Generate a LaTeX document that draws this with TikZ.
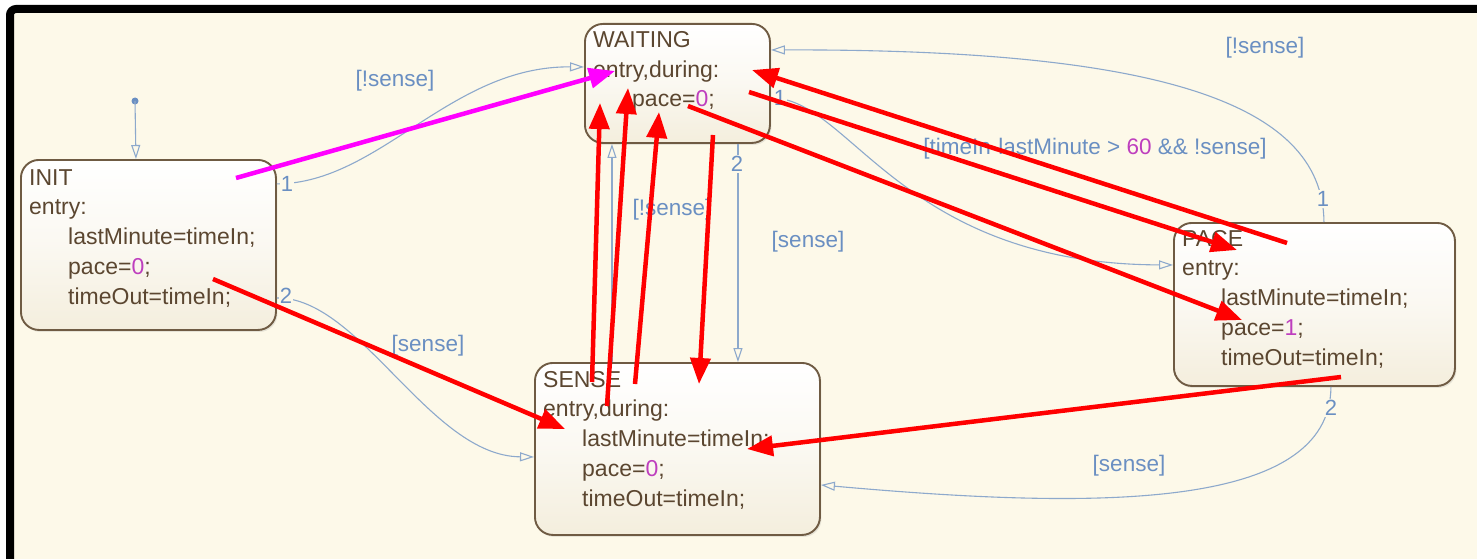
\documentclass[tikz,border=0pt]{standalone}
\usepackage{fontspec}
\setmainfont{Liberation Sans}
\usetikzlibrary{arrows.meta,shadows}
\definecolor{bgc}{HTML}{FDF9E9}
\definecolor{bluel}{HTML}{8DA9CC}
\definecolor{bluet}{HTML}{6A8FC2}
\definecolor{brd}{HTML}{6F5B43}
\definecolor{txtc}{HTML}{5B4630}
\definecolor{numc}{HTML}{BE3EBE}
\definecolor{stbot}{HTML}{F4EEDD}
\definecolor{magc}{HTML}{FF00FF}
\definecolor{redc}{HTML}{FF0000}
\newcommand\stind{\hspace*{39pt}}
\newcommand\nm[1]{\textcolor{numc}{#1}}
\begin{document}
\begin{tikzpicture}[x=1pt,y=-1pt,
  state/.style={draw=brd, line width=1.9pt, rounded corners=18pt, top color=white, bottom color=stbot, middle color=white!60!stbot,
    drop shadow={opacity=0.18, shadow xshift=1.5pt, shadow yshift=-2pt}, anchor=north west, inner sep=0pt},
  stxt/.style={text=txtc, align=left, anchor=base west, inner sep=0pt, font=\fontsize{23}{29.75}\selectfont},
  trans/.style={draw=bluel, line width=1.1pt, -{Triangle[open, length=14pt, width=9pt, fill=bgc]}},
  lbl/.style={text=bluet, font=\fontsize{22.5}{27}\selectfont, inner sep=0pt},
  num/.style={text=bluet, font=\fontsize{22}{26}\selectfont, fill=bgc, inner sep=1pt},
  redar/.style={draw=redc, line width=4.5pt, -{Triangle[length=26pt, width=20pt]}},
  magar/.style={draw=magc, line width=4.5pt, -{Triangle[length=26pt, width=20pt]}}]
\useasboundingbox (0,0) rectangle (1477,559);
\fill[white] (0,0) rectangle (1477,559);
\fill[bgc] (10,9) rectangle (1477,559);
\draw[line width=8pt, rounded corners=6pt] (10,575) -- (10,9) -- (1495,9);

% states
\node[state, minimum width=255pt, minimum height=170pt] (init) at (20,159) {};
\node[state, minimum width=185pt, minimum height=119pt] (wait) at (584,23) {};
\node[state, minimum width=285pt, minimum height=172pt] (sense) at (534,362) {};
\node[state, minimum width=281pt, minimum height=163pt] (pace) at (1173,222) {};

% texts (anchored at the baseline of the last line)
\node[stxt] (initT) at (29,304) {INIT\\entry:\\\stind lastMinute=timeIn;\\\stind pace=\nm{0};\\\stind timeOut=timeIn;};
\node[stxt] (waitT) at (593,107) {WAITING\\entry,during:\\\stind pace=\nm{0};};
\node[stxt] (senseT) at (543,506) {SENSE\\entry,during:\\\stind lastMinute=timeIn;\\\stind pace=\nm{0};\\\stind timeOut=timeIn;};
\node[stxt] (paceT) at (1182,365) {PACE\\entry:\\\stind lastMinute=timeIn;\\\stind pace=\nm{1};\\\stind timeOut=timeIn;};

% default transition
\fill[bluet] (135,101) circle (3.5pt) coordinate (dot);
\draw[trans] (dot) -- ([xshift=-12.5pt]init.north);

% transitions
\draw[trans] ([yshift=61pt]init.east) .. controls (380,183) and (450,66) .. ([yshift=16.5pt]wait.west);
\draw[trans] ([yshift=-53pt]init.east) .. controls (360,297) and (430,456) .. ([yshift=-8pt]sense.west);
\draw[trans] ([yshift=-14.5pt]wait.east) .. controls (850,97) and (900,264) .. ([yshift=39.5pt]pace.west);
\draw[trans] ([xshift=9.5pt]pace.north) .. controls (1323,100) and (1150,49) .. ([yshift=33.5pt]wait.east);
\draw[trans] ([xshift=60.5pt]wait.south) -- ([xshift=60.5pt]sense.north);
\draw[trans] ([xshift=-65.5pt]sense.north) -- ([xshift=-65.5pt]wait.south);
\draw[trans] ([xshift=16.5pt]pace.south) .. controls (1330,510) and (1100,510) .. ([yshift=-36pt]sense.east);

% labels
\node[num] (n1) at (287,184) {1};
\node[num] (n2) at (286,296) {2};
\node[num] (n3) at (780,98) {1};
\node[num] (n4) at (737,164) {2};
\node[num] (n5) at (1323,199) {1};
\node[num] (n6) at (1331,408) {2};
\node[lbl] (g1) at (395,81) {[!sense]};
\node[lbl] (g2) at (428,346) {[sense]};
\node[lbl] (g3) at (672,210) {[!sense]};
\node[lbl] (g4) at (808,242) {[sense]};
\node[lbl] (g5) at (1095,149) {[timeIn-lastMinute > \nm{60} \&\& !sense]};
\node[lbl] (g6) at (1265,48) {[!sense]};
\node[lbl] (g7) at (1129,466) {[sense]};

% red annotation arrows
\coordinate (m1s) at (236,178); \coordinate (m1e) at (615,71);
\coordinate (r2s) at (592,382); \coordinate (r2e) at (600,103);
\coordinate (r3s) at (607,406); \coordinate (r3e) at (628,88);
\coordinate (r4s) at (635,384); \coordinate (r4e) at (659,112);
\coordinate (r5s) at (713,135); \coordinate (r5e) at (699,384);
\coordinate (r6s) at (1287,243); \coordinate (r6e) at (752,70);
\coordinate (r7s) at (749,92); \coordinate (r7e) at (1237,250);
\coordinate (r8s) at (688,106); \coordinate (r8e) at (1242,320);
\coordinate (r9s) at (1341,377); \coordinate (r9e) at (747,449);
\coordinate (r10s) at (213,279); \coordinate (r10e) at (565,429);
\draw[magar] (m1s) -- (m1e);
\draw[redar] (r2s) -- (r2e);
\draw[redar] (r3s) -- (r3e);
\draw[redar] (r4s) -- (r4e);
\draw[redar] (r5s) -- (r5e);
\draw[redar] (r6s) -- (r6e);
\draw[redar] (r7s) -- (r7e);
\draw[redar] (r8s) -- (r8e);
\draw[redar] (r9s) -- (r9e);
\draw[redar] (r10s) -- (r10e);
\end{tikzpicture}
\end{document}
